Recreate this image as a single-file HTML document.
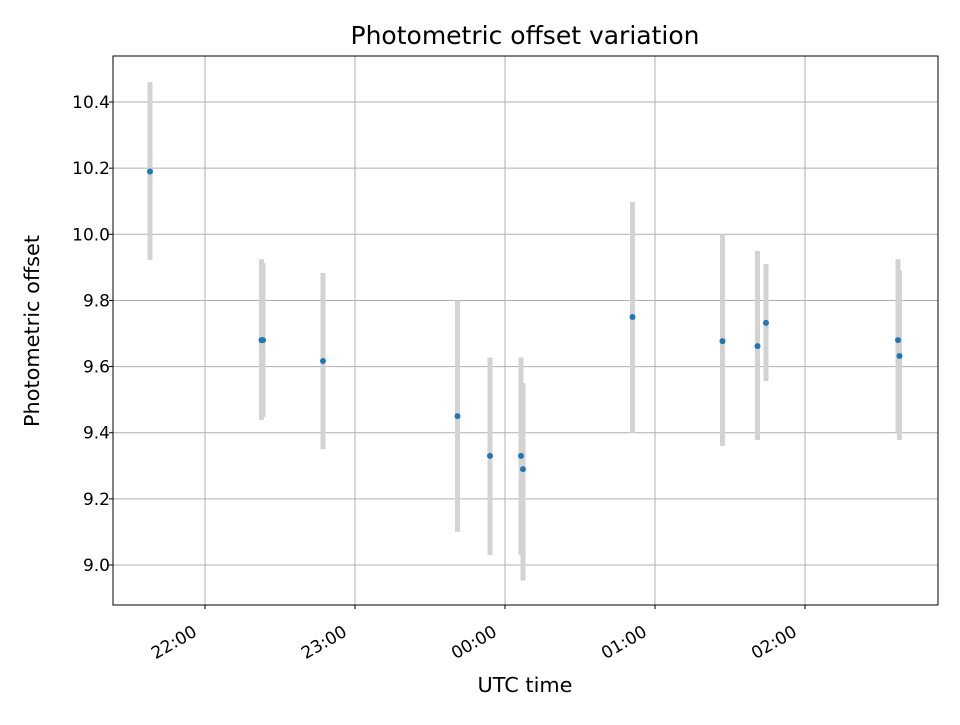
<!DOCTYPE html>
<html><head><meta charset="utf-8"><style>
body{margin:0;background:#fff;}
svg text{font-family:"DejaVu Sans","Liberation Sans",sans-serif;fill:#000;}
</style></head><body>
<svg id="chart" width="960" height="720" xmlns="http://www.w3.org/2000/svg">
<rect width="960" height="720" fill="#fff"/>
<g id="grid"></g><g id="bars"></g><g id="pts"></g><g id="axes"></g>
<text x="525" y="44" font-size="24.5" text-anchor="middle" textLength="349" lengthAdjust="spacingAndGlyphs">Photometric offset variation</text>
<text x="525" y="692" font-size="20.5" text-anchor="middle" textLength="95" lengthAdjust="spacingAndGlyphs">UTC time</text>
<text x="39" y="331" font-size="20.5" text-anchor="middle" textLength="192" lengthAdjust="spacingAndGlyphs" transform="rotate(-90 39 331)">Photometric offset</text>
</svg>
<script>
// minutes relative to 22:00 UTC
const times=[-22,22.6,23.2,47.2,101,114,126.4,127.2,171,207,221,224.4,277.2,277.8];
const values=[10.19,9.68,9.68,9.617,9.45,9.33,9.33,9.29,9.75,9.677,9.662,9.732,9.68,9.632];
const errLow=[9.922,9.438,9.447,9.35,9.10,9.03,9.03,8.953,9.399,9.36,9.378,9.556,9.40,9.378];
const errHigh=[10.46,9.925,9.913,9.883,9.80,9.627,9.627,9.55,10.098,10.0,9.95,9.91,9.925,9.89];
const yTicks=[9.0,9.2,9.4,9.6,9.8,10.0,10.2,10.4];
const xTickMins=[0,60,120,180,240];
const xTickLabels=["22:00","23:00","00:00","01:00","02:00"];
const L=113,R=938,T=56,B=605;
const xs=m=>205+m*2.5;
const ys=v=>565-(v-9.0)*330.7;
const NS="http://www.w3.org/2000/svg";
function mk(tag,attrs,parent){const e=document.createElementNS(NS,tag);for(const k in attrs)e.setAttribute(k,attrs[k]);document.getElementById(parent).appendChild(e);return e;}
yTicks.forEach(v=>{const y=ys(v);
 const g=mk('line',{x1:L,x2:R,y1:y,y2:y,stroke:'#b0b0b0','stroke-width':1},'grid');
 
 
 mk('line',{x1:L-4,x2:L,y1:y,y2:y,stroke:'#000'},'axes');
 const t=mk('text',{x:L-3,y:y+6,'font-size':17,'text-anchor':'end'},'axes');t.textContent=v.toFixed(1);
 
 
});
xTickMins.forEach((m,i)=>{const x=xs(m);
 const g=mk('line',{x1:x,x2:x,y1:T,y2:B,stroke:'#b0b0b0','stroke-width':1},'grid');
 
 
 mk('line',{x1:x,x2:x,y1:B,y2:B+4,stroke:'#000'},'axes');
 const ax=x-7, ay=B+30;
 const t=mk('text',{x:ax,y:ay,'font-size':17,'text-anchor':'end',transform:`rotate(-30 ${ax} ${ay})`},'axes');t.textContent=xTickLabels[i];
 
 
});
const fr=mk('rect',{x:L,y:T,width:R-L,height:B-T,fill:'none',stroke:'#000','stroke-width':1},'axes');


times.forEach((m,i)=>{const x=xs(m);
 const b=mk('line',{x1:x,x2:x,y1:ys(errHigh[i]),y2:ys(errLow[i]),stroke:'#d3d3d3','stroke-width':5},'bars');
 
 
 const c=mk('circle',{cx:x,cy:ys(values[i]),r:3,fill:'#1f77b4'},'pts');
 
 
});
</script>
</body></html>
